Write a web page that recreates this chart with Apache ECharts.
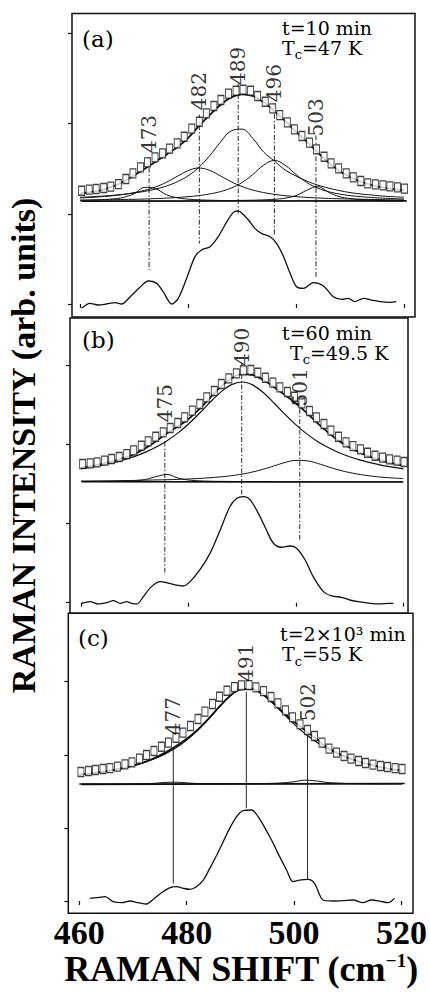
<!DOCTYPE html>
<html>
<head>
<meta charset="utf-8">
<script src="https://cdn.jsdelivr.net/npm/echarts@6/dist/echarts.min.js"></script>
<style>
  html, body { margin: 0; padding: 0; background: #fff; }
  #chart { width: 430px; height: 992px; }
</style>
</head>
<body>
<div id="chart"></div>
<script>
// x grid for fitted curves and data points (cm-1)
var fitX = [460,462,464,466,468,470,472,474,476,478,480,482,484,486,488,490,492,494,496,498,500,502,504,506,508,510,512,514,516,518,520];
var squareX = [460.3,461.7,463.0,464.4,465.7,467.1,468.5,469.8,471.2,472.5,473.9,475.3,476.6,478.0,479.3,480.7,482.1,483.4,484.8,486.1,487.5,488.9,490.2,491.6,492.9,494.3,495.7,497.0,498.4,499.7,501.1,502.5,503.8,505.2,506.5,507.9,509.3,510.6,512.0,513.3,514.7,516.1,517.4,518.8,520.1];
var xTicks = [460, 480, 500, 520];
var yTicks = [0, 10, 20, 30];

// (a) t=10 min
var aSquares = [12.56,12.68,12.75,12.86,13.01,13.30,13.86,14.49,15.15,15.71,16.26,16.70,17.22,17.81,18.55,19.44,20.21,21.14,21.95,22.62,23.32,23.65,23.76,23.65,23.06,22.43,21.69,20.95,20.14,19.36,18.63,17.89,17.15,16.33,15.60,15.04,14.49,14.04,13.64,13.38,13.27,13.16,13.05,12.93,12.79];
var aTotal = [12.27,12.42,12.64,13.01,13.56,14.26,15.00,15.78,16.56,17.37,18.40,19.73,20.95,22.06,22.91,23.24,23.06,22.36,21.40,20.29,19.11,18.00,16.81,15.71,14.78,14.08,13.56,13.19,12.93,12.75,12.60];
var a473 = [11.49,11.52,11.57,11.65,11.82,12.22,12.93,12.79,12.12,11.78,11.63,11.55,11.51,11.48,11.47,11.46,11.46,11.45,11.45,11.44,11.44,11.44,11.43,11.43,11.43,11.43,11.43,11.43,11.42,11.42,11.42];
var a482 = [11.75,11.82,11.90,12.00,12.14,12.34,12.61,12.98,13.50,14.15,14.78,15.08,14.82,14.21,13.56,13.03,12.64,12.36,12.16,12.01,11.91,11.82,11.76,11.71,11.67,11.64,11.61,11.59,11.57,11.55,11.54];
var a489 = [11.83,11.89,11.96,12.05,12.16,12.31,12.49,12.74,13.08,13.55,14.21,15.16,16.42,17.94,19.19,19.39,18.37,16.86,15.85,14.86,14.19,13.64,13.19,12.86,12.58,12.36,12.20,12.09,11.97,11.90,11.84];
var a496 = [11.52,11.53,11.55,11.56,11.59,11.61,11.64,11.69,11.74,11.81,11.90,12.02,12.20,12.46,12.86,13.47,14.36,15.39,15.92,15.39,14.36,13.47,12.86,12.46,12.20,12.02,11.90,11.81,11.74,11.69,11.64];
var a503 = [11.43,11.43,11.43,11.43,11.43,11.43,11.44,11.44,11.44,11.44,11.44,11.45,11.45,11.46,11.47,11.49,11.51,11.55,11.61,11.74,12.02,12.61,13.03,12.40,11.91,11.69,11.59,11.53,11.50,11.48,11.47];
var aBaseX = [460.3, 520.5];
var aBaseY = [11.40, 11.44];
var aDiffX = [460.3,461.85,463.4,464.9,466.5,467.7,469.3,471.1,472.65,474.2,475.4,477.0,478.2,479.75,481.3,482.5,484.1,485.6,487.2,488.4,489.2,489.9,491.2,492.4,493.6,495.2,496.4,497.7,498.9,500.1,501.4,503.2,505.1,506.9,508.5,509.7,510.9,512.5,514.0,515.6,517.4,518.6];
var aDiffY = [-0.48,0.07,-0.11,0,0.15,0,0.81,1.85,2.55,2.29,1.37,0,0.63,2.85,5.25,5.99,6.36,7.46,9.13,10.16,10.31,10.13,9.31,8.39,7.83,7.46,6.73,5.25,3.40,1.92,1.74,2.37,2.00,0.81,0.52,0.63,0.26,0.63,0.44,0.26,0.18,0.26];
var aPeaks = [472.8, 482.1, 489.3, 496.0, 503.7];
var aPeakNames = ['473', '482', '489', '496', '503'];
var aLineTop = [16.3, 21.0, 24.45, 22.25, 18.7];
var aLineBot = [3.77, 6.7, 10.05, 7.65, 3.0];
var aLabelY = [18.85, 23.6, 26.4, 24.5, 20.7];

// (b) t=60 min
var bSquares = [17.51,17.60,17.72,17.93,18.14,18.40,18.77,19.23,19.82,20.37,20.96,21.51,22.06,22.69,23.40,24.25,25.09,25.93,26.73,27.61,28.33,28.96,29.34,29.38,29.04,28.41,27.78,27.19,26.60,26.01,25.17,24.20,23.40,22.56,21.72,20.96,20.25,19.78,19.36,18.94,18.56,18.31,18.10,17.93,17.77];
var bTotal = [17.04,17.27,17.54,17.87,18.28,18.79,19.51,20.40,21.40,22.25,23.20,24.43,25.87,27.26,28.35,28.87,28.72,28.08,27.17,26.19,25.15,23.97,22.68,21.48,20.42,19.59,18.91,18.37,17.93,17.59,17.30];
var b475 = [15.29,15.30,15.31,15.33,15.36,15.42,15.57,15.93,16.19,15.75,15.49,15.39,15.34,15.32,15.31,15.30,15.29,15.29,15.29,15.28,15.28,15.28,15.28,15.28,15.28,15.28,15.28,15.28,15.28,15.28,15.28];
var b490 = [16.92,17.13,17.38,17.68,18.04,18.47,19.01,19.65,20.46,21.41,22.57,23.89,25.29,26.59,27.54,27.87,27.47,26.48,25.15,23.75,22.45,21.32,20.36,19.59,18.94,18.43,18.00,17.65,17.35,17.11,16.90];
var b501 = [15.37,15.38,15.39,15.40,15.42,15.44,15.47,15.50,15.53,15.57,15.62,15.69,15.78,15.89,16.04,16.24,16.52,16.87,17.29,17.71,17.97,17.92,17.59,17.16,16.75,16.43,16.18,15.99,15.85,15.75,15.67];
var bBaseX = [460.2, 519.9];
var bBaseY = [15.27, 15.24];
var bDiffX = [460.1,461.7,463.2,464.8,466.0,467.3,468.5,469.4,470.4,471.6,473.1,474.7,475.9,477.5,479.0,480.3,482.1,484.0,485.9,487.7,489.0,490.2,491.4,493.0,494.5,495.8,497.3,498.9,500.1,501.7,503.2,505.1,506.6,508.5,510.0,511.9,513.8,515.6,517.2,518.1];
var bDiffY = [-0.08,0.13,-0.16,0.00,0.26,-0.08,0.13,-0.08,-0.16,0.76,2.03,2.66,2.53,2.24,2.11,2.66,4.13,6.23,9.18,12.12,13.18,13.39,13.05,11.28,9.18,7.50,7.00,7.16,6.87,5.39,3.29,1.40,0.85,0.68,0.34,0.09,-0.08,-0.16,-0.08,-0.08];
var bPeaks = [475.6, 489.9, 500.7];
var bPeakNames = ['475', '490', '501'];
var bLineTop = [20.33, 30.2, 24.5];
var bLineBot = [3.48, 13.6, 7.7];
var bLabelY = [25.2, 32.3, 27.2];

// (c) t=2x10^3 min
var cSquares = [17.65,17.78,17.92,18.06,18.19,18.38,18.70,18.97,19.47,19.97,20.52,21.11,21.66,22.34,23.03,23.94,24.90,25.90,26.95,27.95,28.77,29.27,29.50,29.54,29.22,28.72,27.91,27.04,26.08,25.13,24.17,23.39,22.57,21.66,20.84,20.29,19.84,19.47,19.15,18.88,18.65,18.47,18.33,18.19,18.06];
var cTotal = [17.29,17.45,17.65,17.88,18.17,18.53,18.98,19.57,20.30,21.20,22.19,23.40,24.89,26.52,28.01,28.96,29.04,28.37,27.19,25.81,24.52,23.40,22.26,21.13,20.29,19.62,19.10,18.68,18.33,18.05,17.82];
var c477 = [16.01,16.01,16.01,16.01,16.01,16.03,16.06,16.11,16.22,16.26,16.16,16.08,16.05,16.03,16.02,16.01,16.01,16.01,16.01,16.01,16.01,16.01,16.01,16.01,16.01,16.01,16.01,16.01,16.01,16.01,16.01];
var c491 = [17.28,17.44,17.64,17.87,18.15,18.50,18.92,19.46,20.13,20.96,22.03,23.32,24.84,26.49,27.99,28.94,29.01,28.31,27.09,25.64,24.20,22.91,21.82,20.90,20.16,19.55,19.05,18.65,18.31,18.03,17.80];
var c502 = [16.01,16.01,16.01,16.01,16.01,16.01,16.02,16.02,16.02,16.02,16.02,16.03,16.03,16.03,16.04,16.05,16.06,16.08,16.10,16.17,16.32,16.53,16.44,16.23,16.13,16.07,16.05,16.03,16.02,16.02,16.01];
var cBaseX = [460.4, 520.6];
var cBaseY = [15.96, 16.08];
var cDiffX = [462.0,463.2,464.8,466.3,467.9,469.4,471.0,472.5,473.8,475.3,476.9,478.1,479.4,480.6,481.8,483.1,484.3,485.6,486.8,488.0,489.3,490.5,492.1,493.3,494.6,495.8,497.0,498.6,499.8,501.0,502.6,503.8,505.4,507.3,509.1,511.0,512.8,514.4,515.9,517.5,518.7];
var cDiffY = [0.36,0.46,0.59,-0.09,-0.23,0.00,-0.23,-0.41,0.23,1.14,1.82,1.96,1.73,1.60,1.96,2.87,4.47,6.29,8.12,9.94,11.54,12.36,12.45,11.54,9.94,8.34,6.52,4.24,2.64,2.87,2.96,2.42,0.14,0.00,0.05,0.14,-0.23,0.14,0.00,-0.23,0.36];
var cPeaks = [477.5, 491.1, 502.5];
var cPeakNames = ['477', '491', '502'];
var cLineTop = [20.9, 28.6, 22.7];
var cLineBot = [2.4, 12.7, 2.9];
var cLabelY = [25.3, 32.6, 27.2];

var INK = '#111';
var dashDot = [5, 2, 1.5, 2];

function pairs(xs, ys) {
  return xs.map(function (x, i) { return [x, ys[i]]; });
}

function curve(g, xs, ys, w, smooth) {
  return {
    type: 'line', xAxisIndex: g, yAxisIndex: g, silent: true,
    data: pairs(xs, ys), symbol: 'none', smooth: smooth,
    lineStyle: { color: INK, width: w }, z: 2
  };
}

function squares(g, ys) {
  return {
    type: 'scatter', xAxisIndex: g, yAxisIndex: g, silent: true,
    data: pairs(squareX, ys), symbol: 'rect', symbolSize: [6, 9],
    itemStyle: { color: '#fff', borderColor: INK, borderWidth: 1.1 }, z: 4
  };
}

function peakMarks(g, xs, tops, bots, names, labelYs, dash) {
  var out = [];
  xs.forEach(function (x, i) {
    out.push({
      type: 'line', xAxisIndex: g, yAxisIndex: g, silent: true,
      data: [[x, tops[i]], [x, bots[i]]], symbol: 'none',
      lineStyle: { color: INK, width: 0.9, type: dash }, z: 3
    });
  });
  out.push({
    type: 'scatter', xAxisIndex: g, yAxisIndex: g, silent: true,
    symbolSize: 1, itemStyle: { color: 'rgba(0,0,0,0)' },
    data: xs.map(function (x, i) { return { value: [x, labelYs[i]], name: names[i] }; }),
    label: {
      show: true, position: 'inside', formatter: '{b}', rotate: 90,
      fontFamily: 'DejaVu Serif', fontSize: 20, color: '#000'
    },
    z: 5
  });
  return out;
}

function xAxisFor(g, min, max) {
  return {
    type: 'value', gridIndex: g, min: min, max: max,
    axisLine: { show: false }, splitLine: { show: false },
    axisTick: { show: true, length: 4, customValues: xTicks, lineStyle: { color: INK, width: 1.2 } },
    axisLabel: g === 2 ? {
      show: true, customValues: xTicks, margin: 2, color: '#000',
      fontFamily: 'Liberation Serif', fontWeight: 'bold', fontSize: 34
    } : { show: false }
  };
}

function yAxisFor(g, min, max) {
  return {
    type: 'value', gridIndex: g, min: min, max: max,
    axisLine: { show: false }, splitLine: { show: false },
    axisTick: { show: true, length: 4, customValues: yTicks, lineStyle: { color: INK, width: 1.2 } },
    axisLabel: { show: false }
  };
}

var series = [].concat(
  [curve(0, aBaseX, aBaseY, 1.6, false),
   curve(0, fitX, a473, 1, 0.4), curve(0, fitX, a482, 1, 0.4), curve(0, fitX, a489, 1, 0.4),
   curve(0, fitX, a496, 1, 0.4), curve(0, fitX, a503, 1, 0.4),
   curve(0, fitX, aTotal, 1.8, 0.4), squares(0, aSquares),
   curve(0, aDiffX, aDiffY, 1.3, 0.3)],
  peakMarks(0, aPeaks, aLineTop, aLineBot, aPeakNames, aLabelY, dashDot),
  [curve(1, bBaseX, bBaseY, 1.6, false),
   curve(1, fitX, b475, 1, 0.4), curve(1, fitX, b490, 1.2, 0.4), curve(1, fitX, b501, 1, 0.4),
   curve(1, fitX, bTotal, 1.8, 0.4), squares(1, bSquares),
   curve(1, bDiffX, bDiffY, 1.3, 0.3)],
  peakMarks(1, bPeaks, bLineTop, bLineBot, bPeakNames, bLabelY, dashDot),
  [curve(2, cBaseX, cBaseY, 1.6, false),
   curve(2, fitX, c477, 1, 0.4), curve(2, fitX, c491, 1.2, 0.4), curve(2, fitX, c502, 1, 0.4),
   curve(2, fitX, cTotal, 1.8, 0.4), squares(2, cSquares),
   curve(2, cDiffX, cDiffY, 1.3, 0.3)],
  peakMarks(2, cPeaks, cLineTop, cLineBot, cPeakNames, cLabelY, 'solid')
);

var serif = '"DejaVu Serif"';
// T with subscript c: main glyphs hang from the top, the "c" sits on the bottom of a taller line
var tcRich = {
  m: { font: '19px ' + serif, verticalAlign: 'top', lineHeight: 19 },
  s: { font: '13px ' + serif, verticalAlign: 'bottom', lineHeight: 23 }
};

function note(x, y, text, size) {
  return {
    type: 'text', x: x, y: y, silent: true,
    style: { text: text, font: size + 'px ' + serif, fill: '#000', textAlign: 'left', textVerticalAlign: 'middle' }
  };
}

function tcNote(x, top, rest) {
  return {
    type: 'text', x: x, y: top, silent: true,
    style: { text: '{m|T}{s|c}{m|' + rest + '}', rich: tcRich, fill: '#000', textAlign: 'left', textVerticalAlign: 'top' }
  };
}

var option = {
  animation: false,
  backgroundColor: '#fff',
  grid: [
    { left: 72, top: 13.5, width: 343, height: 303.5, show: true, borderColor: INK, borderWidth: 1.5 },
    { left: 70, top: 318, width: 338, height: 295.3, show: true, borderColor: INK, borderWidth: 1.5 },
    { left: 68.3, top: 613.3, width: 345, height: 300, show: true, borderColor: INK, borderWidth: 1.5 }
  ],
  xAxis: [xAxisFor(0, 458.52, 522.04), xAxisFor(1, 457.95, 520.84), xAxisFor(2, 457.95, 522.14)],
  yAxis: [yAxisFor(0, -1.44, 32.21), yAxisFor(1, -1.34, 35.95), yAxisFor(2, -1.68, 39.36)],
  series: series,
  graphic: [
    note(82, 39, '(a)', 23),
    note(282, 27.5, 't=10 min', 19),
    tcNote(282, 38, '=47 K'),
    note(82, 340, '(b)', 23),
    note(282, 332.5, 't=60 min', 19),
    tcNote(290, 343, '=49.5 K'),
    note(78, 638, '(c)', 23),
    note(280, 634, 't=2×10³ min', 19),
    tcNote(282, 644.5, '=55 K'),
    {
      type: 'text', x: 23, y: 445.5, rotation: Math.PI / 2, silent: true,
      style: {
        text: 'RAMAN INTENSITY (arb. units)', font: 'bold 34px "Liberation Serif"',
        fill: '#000', textAlign: 'center', textVerticalAlign: 'middle'
      }
    },
    {
      type: 'text', x: 241, y: 969, silent: true,
      style: {
        text: '{m|RAMAN SHIFT (cm}{s|−1}{m|)}',
        rich: {
          m: { font: 'bold 36px "Liberation Serif"', verticalAlign: 'bottom', lineHeight: 36 },
          s: { font: 'bold 19px "Liberation Serif"', verticalAlign: 'top', lineHeight: 19 }
        },
        fill: '#000', textAlign: 'center', textVerticalAlign: 'middle'
      }
    }
  ]
};

var chart = echarts.init(document.getElementById('chart'), null, { renderer: 'svg' });
chart.setOption(option);
</script>
</body>
</html>
